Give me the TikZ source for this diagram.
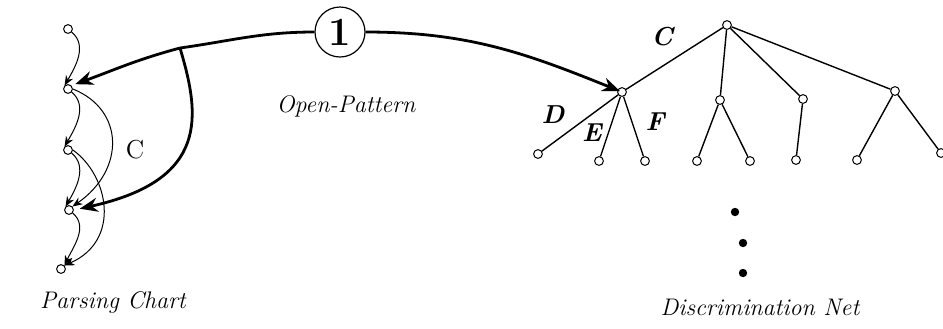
\documentclass[tikz,border=0pt]{standalone}
\usetikzlibrary{arrows.meta}

\begin{document}
\begin{tikzpicture}[x=0.5pt,y=-0.5pt,
  pt/.style={circle,draw,inner sep=0pt,minimum size=4.4pt,line width=0.5pt},
  dot/.style={circle,fill,inner sep=0pt,minimum size=4.2pt},
  chain/.style={line width=0.5pt,-{Stealth[length=5pt,width=4pt]}},
  big/.style={line width=1.4pt,-{Stealth[length=9pt,width=7pt]}},
  lab/.style={font=\fontsize{12}{14}\selectfont\itshape},
  let/.style={font=\fontsize{13}{15}\selectfont\bfseries\itshape}]
  \useasboundingbox (0,0) rectangle (943,328);
  % parsing chart
  \node[pt] (c1) at (68,29) {};
  \node[pt] (c2) at (68,89) {};
  \node[pt] (c3) at (68,150) {};
  \node[pt] (c4) at (69,210) {};
  \node[pt] (c5) at (61,269) {};
  \draw[chain] (c1) to[out=-40,in=60] (c2.north west);
  \draw[chain] (c2) to[out=-40,in=60] (c3.north west);
  \draw[chain] (c3) to[out=-40,in=60] (c4.north west);
  \draw[chain] (c4) to[out=-40,in=65] (c5.north east);
  \draw[chain] (c2.east) .. controls (125,110) and (125,170) .. (c4.north east);
  \draw[chain] (c3.east) .. controls (108,175) and (122,240) .. (c5.north east);
  \node[font=\fontsize{13}{15}\selectfont] (lc) at (135,150) {C};
  \node[lab] (pc) at (113,302) {Parsing Chart};
  % open-pattern
  \node[circle,draw,line width=0.6pt,minimum size=25pt,inner sep=0pt,
    font=\fontsize{20}{22}\selectfont\bfseries] (one) at (340,32) {1};
  \coordinate (br) at (180,48);
  \draw[line width=1.4pt] (one.west) to[out=180,in=8] (br);
  \draw[big,shorten >=2pt] (br) to[out=195,in=20] (c2.north east);
  \draw[big,shorten >=3pt] (br) .. controls (200,115) and (210,180) .. (c4.east);
  \draw[big,shorten >=1pt] (one.east) to[out=0,in=158] (622,92);
  \node[lab] (op) at (346,106) {Open-Pattern};
  % discrimination net
  \node[pt] (root) at (727,25) {};
  \node[pt] (a) at (622,92) {};
  \node[pt] (b) at (720,100) {};
  \node[pt] (cn) at (803,99) {};
  \node[pt] (dn) at (895,91) {};
  \node[pt] (l1) at (538,154) {};
  \node[pt] (l2) at (599,161) {};
  \node[pt] (l3) at (645,161) {};
  \node[pt] (l4) at (697,161) {};
  \node[pt] (l5) at (750,161) {};
  \node[pt] (l6) at (796,160) {};
  \node[pt] (l7) at (857,160) {};
  \node[pt] (l8) at (941,153) {};
  \draw[line width=0.7pt] (root) -- (a) (root) -- (b) (root) -- (cn) (root) -- (dn)
    (a) -- (l1) (a) -- (l2) (a) -- (l3) (b) -- (l4) (b) -- (l5)
    (cn) -- (l6) (dn) -- (l7) (dn) -- (l8);
  \node[let] at (662,37) {C};
  \node[let] at (553,115) {D};
  \node[let] at (592,133) {E};
  \node[let] at (655,122) {F};
  \node[dot] (d1) at (735,212) {};
  \node[dot] (d2) at (743,243) {};
  \node[dot] (d3) at (743,273) {};
  \node[lab] (dn2) at (760,307) {Discrimination Net};
\end{tikzpicture}
\end{document}
